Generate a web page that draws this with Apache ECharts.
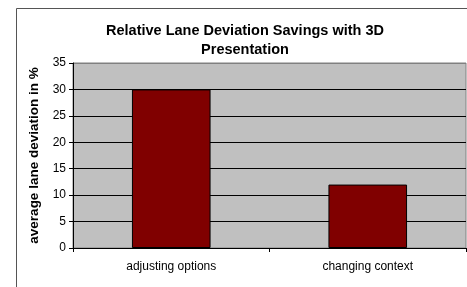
<!DOCTYPE html>
<html>
<head>
<meta charset="utf-8">
<script src="https://cdn.jsdelivr.net/npm/echarts@6/dist/echarts.min.js"></script>
<style>
  html, body { margin: 0; padding: 0; background: #fff; }
  #chart { width: 467px; height: 287px; }
</style>
</head>
<body>
<div id="chart"></div>
<script>
// data
var categories = ['adjusting options', 'changing context'];
var deviation = [30, 12];
var yTicks = [0, 5, 10, 15, 20, 25, 30, 35];

var chart = echarts.init(document.getElementById('chart'));

// grid lines black, the top one is the grey plot border
var splitColors = yTicks.map(function (v, i) {
  return i === yTicks.length - 1 ? '#808080' : '#000';
});

var font = 'Liberation Sans, Arial, sans-serif';

var option = {
  animation: false,
  backgroundColor: '#fff',
  // outer chart frame (cut off on the right / bottom)
  graphic: [{
    type: 'rect',
    shape: { x: 16.5, y: 8.5, width: 500, height: 320 },
    style: { fill: 'none', stroke: '#555', lineWidth: 1 },
    silent: true
  }],
  title: {
    text: 'Relative Lane Deviation Savings with 3D\nPresentation',
    left: 240,
    top: 16,
    textAlign: 'center',
    textStyle: {
      fontFamily: font,
      fontSize: 14.5,
      fontWeight: 'bold',
      color: '#000',
      lineHeight: 19
    }
  },
  grid: {
    left: 73,
    right: 1,
    top: 63,
    bottom: 39,
    show: true,
    backgroundColor: '#C0C0C0',
    borderColor: '#808080',
    borderWidth: 1
  },
  xAxis: {
    type: 'category',
    data: categories,
    axisLine: { lineStyle: { color: '#000', width: 1 } },
    axisTick: { show: true, length: 4, lineStyle: { color: '#000' } },
    axisLabel: {
      margin: 13,
      fontFamily: font,
      fontSize: 12,
      color: '#000'
    }
  },
  yAxis: {
    type: 'value',
    min: 0,
    max: 35,
    interval: 5,
    name: 'average lane deviation in %',
    nameLocation: 'middle',
    nameGap: 29,
    nameTextStyle: {
      fontFamily: font,
      fontSize: 13.5,
      fontWeight: 'bold',
      color: '#000'
    },
    axisLine: { show: true, lineStyle: { color: '#000', width: 1 } },
    axisTick: { show: true, length: 4, lineStyle: { color: '#000' } },
    axisLabel: {
      margin: 7,
      fontFamily: font,
      fontSize: 12,
      color: '#000'
    },
    splitLine: { show: true, lineStyle: { color: splitColors, width: 1 } }
  },
  series: [{
    name: 'average lane deviation',
    type: 'bar',
    data: deviation,
    barWidth: '40%',
    itemStyle: {
      color: '#800000',
      borderColor: '#000',
      borderWidth: 1
    }
  }]
};

chart.setOption(option);
</script>
</body>
</html>
